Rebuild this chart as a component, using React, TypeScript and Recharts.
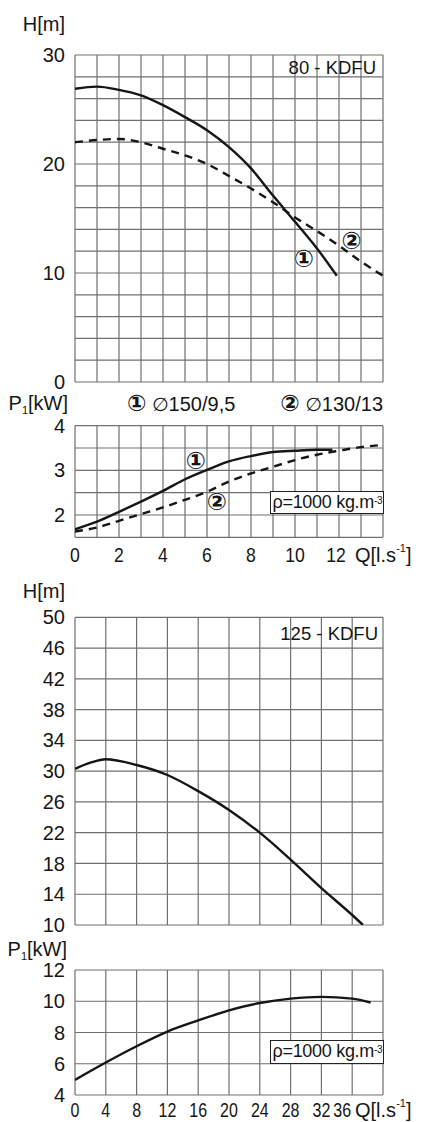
import React from 'react';
import { LineChart, Line, XAxis, YAxis, CartesianGrid, ReferenceDot } from 'recharts';

const FONT = '"Liberation Sans", Arial, sans-serif';
const MARK_FONT = '"DejaVu Sans", "Noto Sans CJK JP", sans-serif';
const INK = '#161616';
const GRID = '#707070';

// 80 - KDFU : H(Q), impeller 1 (solid) and 2 (dashed)
const q80Imp1 = [0, 1, 2, 3, 4, 5, 6, 7, 8, 9, 10, 11, 11.9];
const h80Imp1 = [26.9, 27.1, 26.8, 26.3, 25.4, 24.3, 23.1, 21.55, 19.6, 17.1, 14.7, 12.25, 9.75];
const q80Imp2 = [0, 1, 2, 3, 4, 5, 6, 7, 8, 9, 10, 11, 12, 13, 14];
const h80Imp2 = [22.0, 22.2, 22.3, 22.0, 21.4, 20.8, 20.0, 18.9, 17.75, 16.5, 15.1, 13.85, 12.5, 11.05, 9.75];

// 80 - KDFU : P1(Q)
const qP80Imp1 = [0, 1, 2, 3, 4, 5, 6, 7, 8, 9, 10, 11, 11.7];
const p80Imp1 = [1.68, 1.85, 2.07, 2.3, 2.54, 2.8, 3.01, 3.2, 3.32, 3.41, 3.44, 3.46, 3.46];
const p80Imp2 = [1.63, 1.72, 1.87, 2.02, 2.17, 2.34, 2.52, 2.75, 2.93, 3.08, 3.23, 3.35, 3.44, 3.52, 3.57];

const q80Ticks = [0, 1, 2, 3, 4, 5, 6, 7, 8, 9, 10, 11, 12, 13, 14];
const h80Ticks = [0, 2, 4, 6, 8, 10, 12, 14, 16, 18, 20, 22, 24, 26, 28, 30];
const p80Ticks = [1.5, 2, 2.5, 3, 3.5, 4];

const marks80H = [
  { label: '①', q: 10.4, v: 11.3 },
  { label: '②', q: 12.57, v: 12.95 },
];
const marks80P = [
  { label: '①', q: 5.5, v: 3.22 },
  { label: '②', q: 6.45, v: 2.31 },
];

// 125 - KDFU
const q125 = [0, 2, 4, 8, 12, 16, 20, 24, 28, 32, 36, 37.4];
const h125 = [30.3, 31.1, 31.55, 30.8, 29.5, 27.4, 24.95, 22.0, 18.5, 14.8, 11.3, 10.0];
const qP125 = [0, 4, 8, 12, 16, 20, 24, 28, 32, 36, 38.4];
const p125 = [4.97, 6.08, 7.12, 8.06, 8.77, 9.42, 9.89, 10.17, 10.28, 10.17, 9.92];

const q125Ticks = [0, 4, 8, 12, 16, 20, 24, 28, 32, 36, 40];
const h125Ticks = [10, 14, 18, 22, 26, 30, 34, 38, 42, 46, 50];
const p125Ticks = [4, 6, 8, 10, 12];

const zip = (q: number[], v: number[]) => q.map((x, i) => ({ q: x, v: v[i] }));

type Series = { data: { q: number; v: number }[]; dashed?: boolean };
type Mark = { label: string; q: number; v: number };

const QTick = (props: any) => {
  const { x, y, payload, last, prev, prevShift, show, dy, squeeze } = props;
  const v = payload.value;
  if (v === last) {
    return (
      <text x={x - 28} y={y + dy} textAnchor="start" dominantBaseline="central" fontSize={20} fontFamily={FONT} fill={INK}>
        Q[l.s
        <tspan fontSize={11} dy={-7}>-1</tspan>
        <tspan dy={7}>]</tspan>
      </text>
    );
  }
  if (!show(v)) return null;
  const cx = x + (v === prev ? prevShift : 0);
  return (
    <text
      x={cx}
      y={y + dy}
      transform={`translate(${cx} 0) scale(${squeeze} 1) translate(${-cx} 0)`}
      textAnchor="middle"
      dominantBaseline="central"
      fontSize={20}
      fontFamily={FONT}
      fill={INK}
    >
      {v}
    </text>
  );
};

function Panel(props: {
  top: number;
  height: number;
  mTop: number;
  mBottom: number;
  xTicks: number[];
  yTicks: number[];
  yFmt: (v: number) => string;
  series: Series[];
  marks?: Mark[];
  xAxisHeight?: number;
  showX?: (v: number) => boolean;
  xDy?: number;
  prev?: number;
  prevShift?: number;
  squeeze?: number;
}) {
  const { top, height, mTop, mBottom, xTicks, yTicks, yFmt, series, marks = [], xAxisHeight = 0, xDy = 10 } = props;
  const showX = props.showX ?? (() => false);
  const last = props.showX ? xTicks[xTicks.length - 1] : NaN;
  const xDomain = [xTicks[0], xTicks[xTicks.length - 1]];
  const yDomain = [yTicks[0], yTicks[yTicks.length - 1]];
  return (
    <div style={{ position: 'absolute', left: 0, top }}>
      <LineChart width={426} height={height} margin={{ top: mTop, right: 43, bottom: mBottom, left: 0 }}>
        <CartesianGrid stroke={GRID} strokeWidth={1.2} />
        <XAxis
          type="number"
          dataKey="q"
          domain={xDomain}
          ticks={xTicks}
          interval={0}
          allowDataOverflow
          height={xAxisHeight}
          axisLine={false}
          tickLine={false}
          tick={
            <QTick
              last={last}
              prev={props.prev}
              prevShift={props.prevShift ?? 0}
              show={showX}
              dy={xDy}
              squeeze={props.squeeze ?? 1}
            />
          }
        />
        <YAxis
          type="number"
          domain={yDomain}
          ticks={yTicks}
          interval={0}
          allowDataOverflow
          width={75}
          axisLine={false}
          tickLine={false}
          tickMargin={4}
          tickFormatter={yFmt}
          tick={{ fontSize: 20, fill: INK, fontFamily: FONT }}
        />
        {series.map((s, i) => (
          <Line
            key={i}
            data={s.data}
            dataKey="v"
            type="monotone"
            stroke={INK}
            strokeWidth={2.4}
            strokeDasharray={s.dashed ? '8 6' : undefined}
            dot={false}
            activeDot={false}
            isAnimationActive={false}
          />
        ))}
        {marks.map((m, i) => (
          <ReferenceDot
            key={'m' + i}
            x={m.q}
            y={m.v}
            r={9}
            fill="#fff"
            stroke="none"
            label={{ value: m.label, position: 'center', fontSize: 24, fill: INK, fontFamily: MARK_FONT, fontWeight: 'bold' }}
          />
        ))}
      </LineChart>
    </div>
  );
}

const Note = (p: { x: number; y: number; right?: boolean; size?: number; children: React.ReactNode; style?: React.CSSProperties }) => (
  <div
    style={{
      position: 'absolute',
      top: p.y,
      ...(p.right ? { right: 426 - p.x } : { left: p.x }),
      transform: 'translateY(-50%)',
      fontSize: p.size ?? 20,
      lineHeight: 1,
      whiteSpace: 'nowrap',
      color: INK,
      ...p.style,
    }}
  >
    {p.children}
  </div>
);

const P1 = () => (
  <span>
    P<span style={{ fontSize: 11, position: 'relative', top: 4 }}>1</span>[kW]
  </span>
);

const Circ = ({ c }: { c: string }) => (
  <span style={{ fontFamily: MARK_FONT, fontWeight: 'bold', fontSize: 23 }}>{c}</span>
);

const Dia = () => <span style={{ fontFamily: MARK_FONT, fontSize: 19 }}>∅</span>;

const Rho = ({ x, y }: { x: number; y: number }) => (
  <div
    style={{
      position: 'absolute',
      left: x,
      top: y,
      width: 114,
      height: 23.5,
      boxSizing: 'border-box',
      border: '1.3px solid #222',
      background: '#fff',
      display: 'flex',
      alignItems: 'center',
      paddingLeft: 2,
      fontSize: 18,
      fontFamily: FONT,
      color: INK,
      whiteSpace: 'nowrap',
      letterSpacing: -0.3,
    }}
  >
    ρ=1000 kg.m<sup style={{ fontSize: 10, position: 'relative', top: -2 }}>-3</sup>
  </div>
);

export default function App() {
  const even = (v: number) => v % 2 === 0 && v <= 12;
  const upto36 = (v: number) => v <= 36;
  return (
    <div style={{ position: 'absolute', left: 0, top: 0, width: 426, height: 1122, background: '#fff', fontFamily: FONT, overflow: 'hidden' }}>
      <Panel
        top={0}
        height={400}
        mTop={55}
        mBottom={18}
        xTicks={q80Ticks}
        yTicks={h80Ticks}
        yFmt={(v) => (v % 10 === 0 ? String(v) : '')}
        series={[{ data: zip(q80Imp1, h80Imp1) }, { data: zip(q80Imp2, h80Imp2), dashed: true }]}
        marks={marks80H}
      />
      <Panel
        top={400}
        height={170}
        mTop={25.7}
        mBottom={0}
        xAxisHeight={32.7}
        xTicks={q80Ticks}
        yTicks={p80Ticks}
        yFmt={(v) => (Number.isInteger(v) ? String(v) : '')}
        series={[{ data: zip(qP80Imp1, p80Imp1) }, { data: zip(q80Imp2, p80Imp2), dashed: true }]}
        marks={marks80P}
        showX={even}
        xDy={10}
        prev={12}
        prevShift={-3}
        squeeze={0.88}
      />
      <Panel
        top={570}
        height={370}
        mTop={47.3}
        mBottom={15}
        xTicks={q125Ticks}
        yTicks={h125Ticks}
        yFmt={(v) => String(v)}
        series={[{ data: zip(q125, h125) }]}
      />
      <Panel
        top={940}
        height={182}
        mTop={30}
        mBottom={0}
        xAxisHeight={27}
        xTicks={q125Ticks}
        yTicks={p125Ticks}
        yFmt={(v) => String(v)}
        series={[{ data: zip(qP125, p125) }]}
        showX={upto36}
        xDy={7}
        prev={36}
        prevShift={-10}
        squeeze={0.8}
      />

      <Note x={65} y={24} right>H[m]</Note>
      <Note x={376} y={67.5} right size={18.5}>80 - KDFU</Note>
      <Note x={68} y={403} right><P1 /></Note>
      <Note x={127} y={403}>
        <Circ c="①" /> <Dia />150/9,5
      </Note>
      <Note x={383} y={403} right>
        <Circ c="②" /> <Dia />130/13
      </Note>
      <Rho x={269.5} y={490.7} />

      <Note x={65} y={591} right>H[m]</Note>
      <Note x={378} y={633.5} right size={18.5}>125 - KDFU</Note>
      <Note x={67} y={949} right><P1 /></Note>
      <Rho x={269.5} y={1040} />
    </div>
  );
}
